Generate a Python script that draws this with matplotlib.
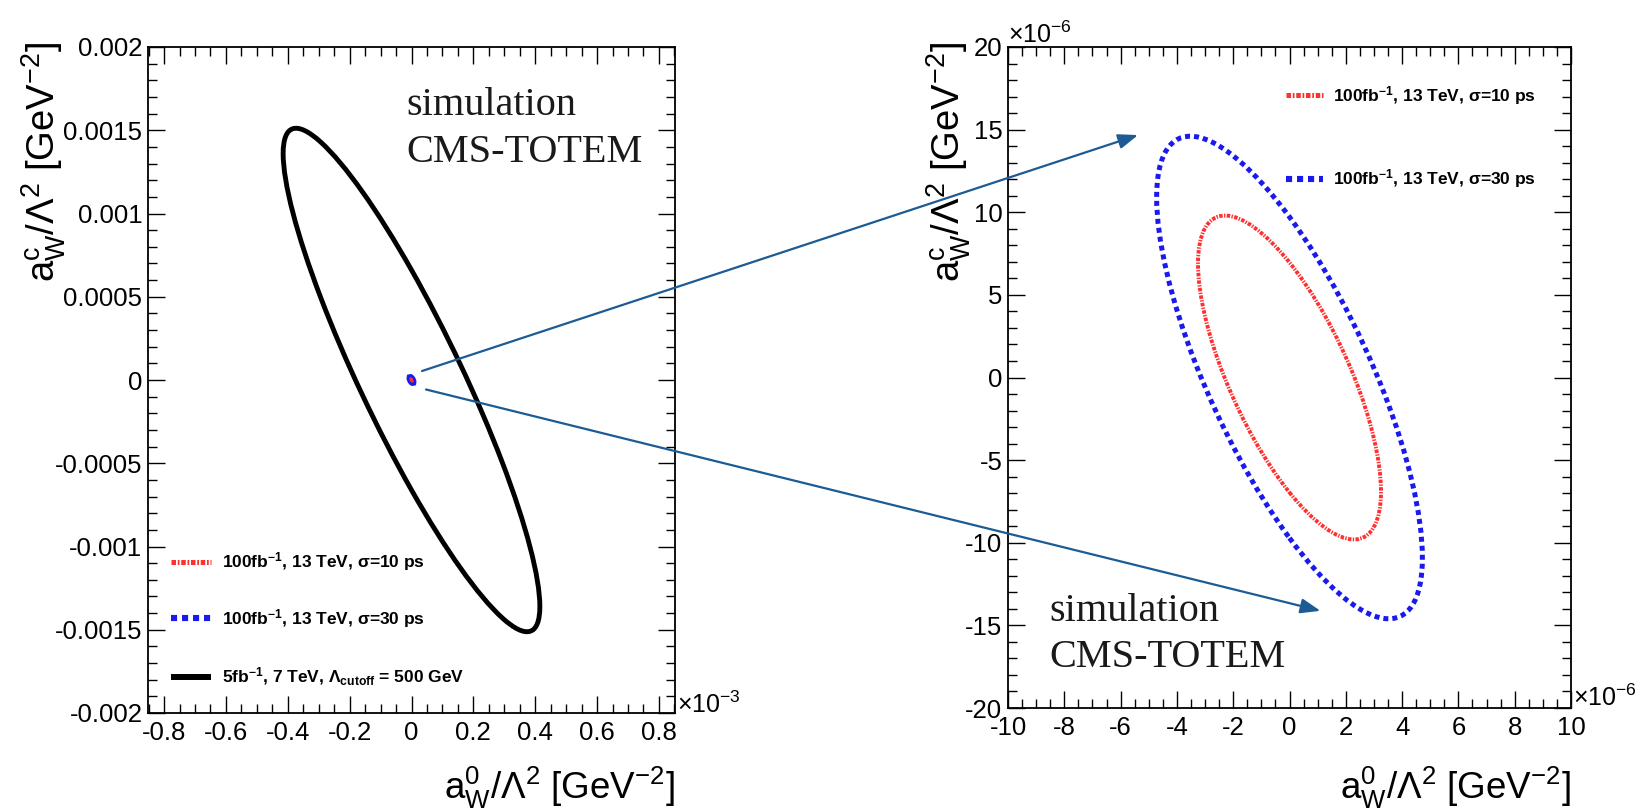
import matplotlib
matplotlib.use("Agg")
import matplotlib.pyplot as plt
import numpy as np
from matplotlib.patches import Circle, ConnectionPatch
from matplotlib.transforms import Affine2D
from matplotlib.ticker import MultipleLocator, FuncFormatter
from matplotlib.lines import Line2D

plt.rcParams['font.family'] = ['Liberation Sans', 'DejaVu Sans']
plt.rcParams['mathtext.fontset'] = 'custom'
plt.rcParams['mathtext.rm'] = 'Liberation Sans'
plt.rcParams['mathtext.it'] = 'Liberation Sans:italic'
plt.rcParams['mathtext.bf'] = 'Liberation Sans:bold'

# ---------------- data, units GeV^-2 ----------------
contour_labels = [r"100fb$^{\mathbf{-1}}$, 13 TeV, σ=10 ps",
                  r"100fb$^{\mathbf{-1}}$, 13 TeV, σ=30 ps",
                  r"5fb$^{\mathbf{-1}}$, 7 TeV, Λ$_{\mathbf{cutoff}}$ = 500 GeV"]
# half extent of each contour along a_W^0, along a_W^C, and a_W^C where a_W^0 is maximal
x_extent = [3.25e-6, 4.72e-6, 0.415e-3]
y_extent = [9.8e-6, 14.6e-6, 1.512e-3]
y_at_x_extent = [-6.9e-6, -10.9e-6, -1.36e-3]

# zoom arrows: start in left panel, end in right panel (GeV^-2)
arrow_start = [(0.034e-3, 0.054e-3), (0.047e-3, -0.057e-3)]
arrow_end = [(-5.38e-6, 14.67e-6), (1.10e-6, -14.12e-6)]

left_xticks = [-0.8, -0.6, -0.4, -0.2, 0, 0.2, 0.4, 0.6, 0.8]
left_yticks = [-0.002, -0.0015, -0.001, -0.0005, 0, 0.0005, 0.001, 0.0015, 0.002]
right_xticks = [-10, -8, -6, -4, -2, 0, 2, 4, 6, 8, 10]
right_yticks = [-20, -15, -10, -5, 0, 5, 10, 15, 20]

# ---------------- styles ----------------
styles = [dict(color='#ff3030', lw=2.8, ls=(0, (0.9, 0.35, 0.35, 0.35))),
          dict(color='#1a1aee', lw=3.6, ls=(0, (1.0, 0.8))),
          dict(color='black', lw=3.5, ls='-')]

fig = plt.figure(figsize=(16.35, 8.11), dpi=100)
ax1 = fig.add_axes([148/1635, 1-713/811, 527/1635, 666/811])
ax2 = fig.add_axes([1008/1635, 1-708/811, 563/1635, 661/811])


def draw_contour(ax, i, sx, sy, ls=None, lw=None):
    y2 = np.sqrt(y_extent[i]**2 - y_at_x_extent[i]**2)
    m = np.array([[x_extent[i]/sx, 0, 0],
                  [y_at_x_extent[i]/sy, y2/sy, 0],
                  [0, 0, 1]])
    st = styles[i]
    p = Circle((0, 0), 1, transform=Affine2D(m) + ax.transData, fill=False,
               edgecolor=st['color'], linewidth=lw or st['lw'],
               linestyle=ls or st['ls'], capstyle='butt')
    ax.add_patch(p)


# left panel: x in 1e-3, y raw (the 13 TeV contours collapse to a small blob)
draw_contour(ax1, 2, 1e-3, 1.0)
draw_contour(ax1, 1, 1e-3, 1.0, ls='-', lw=5.0)
draw_contour(ax1, 0, 1e-3, 1.0, ls='-', lw=1.5)
# right panel: both in 1e-6
for i in [1, 0]:
    draw_contour(ax2, i, 1e-6, 1e-6)

ax1.set_xlim(-0.852, 0.852)
ax1.set_ylim(-0.002, 0.002)
ax2.set_xlim(-10, 10)
ax2.set_ylim(-20, 20)

ax1.set_xticks(left_xticks)
ax1.set_yticks(left_yticks)
ax2.set_xticks(right_xticks)
ax2.set_yticks(right_yticks)
ax1.xaxis.set_minor_locator(MultipleLocator(0.05))
ax1.yaxis.set_minor_locator(MultipleLocator(0.0001))
ax2.xaxis.set_minor_locator(MultipleLocator(0.5))
ax2.yaxis.set_minor_locator(MultipleLocator(1))
fmt = FuncFormatter(lambda v, p: f"{v:g}")
for ax in (ax1, ax2):
    ax.xaxis.set_major_formatter(fmt)
    ax.yaxis.set_major_formatter(fmt)
    ax.tick_params(which='both', direction='in', top=True, right=True, width=1.0)
    ax.tick_params(which='major', length=12, labelsize=18.5)
    ax.tick_params(which='minor', length=6.5)
    ax.tick_params(axis='x', pad=6)
    ax.tick_params(axis='y', pad=4)
    for s in ax.spines.values():
        s.set_linewidth(1.3)

# axis labels
ylab_c = r"a$_{\mathrm{W}}^{\mathrm{c}}$/Λ$^{2}$ [GeV$^{-2}$]"
xlab_0 = r"a$_{\mathrm{W}}^{0}$/Λ$^{2}$ [GeV$^{-2}$]"
for ax, ylx, xly in ((ax1, -0.152, -0.078), (ax2, -0.062, -0.086)):
    ax.set_ylabel(ylab_c, fontsize=27.5, loc='top')
    ax.yaxis.set_label_coords(ylx, 1.008)
    ax.set_xlabel(xlab_0, fontsize=26.5, loc='right', va='top')
    ax.xaxis.set_label_coords(1.0, xly)

# multipliers
ax1.text(1.004, 0.012, r"×10$^{-3}$", transform=ax1.transAxes, fontsize=18, va='center', ha='left')
ax2.text(0.0, 1.006, r"×10$^{-6}$", transform=ax2.transAxes, fontsize=18, va='baseline', ha='left')
ax2.text(1.004, 0.015, r"×10$^{-6}$", transform=ax2.transAxes, fontsize=18, va='center', ha='left')

# simulation / CMS-TOTEM
for ax, x, y1, y2 in ((ax1, 0.491, 0.898, 0.828), (ax2, 0.073, 0.132, 0.0614)):
    ax.text(x, y1, "simulation", transform=ax.transAxes, fontsize=29,
            family='Liberation Serif', va='baseline', ha='left', color='#1a1a1a')
    ax.text(x, y2, "CMS-TOTEM", transform=ax.transAxes, fontsize=29,
            family='Liberation Serif', va='baseline', ha='left', color='#1a1a1a')


# legends
def legend_row(ax, i, x0, x1, xt, y):
    st = styles[i]
    ax.add_line(Line2D([x0, x1], [y, y], transform=ax.transAxes, color=st['color'],
                       lw=st['lw'] + 0.8, ls=st['ls'], solid_capstyle='butt',
                       dash_capstyle='butt', clip_on=False))
    ax.text(xt, y, contour_labels[i], transform=ax.transAxes, va='center', ha='left',
            fontsize=12.5, fontweight='bold')


for i, y in zip([0, 1, 2], [0.227, 0.142, 0.0545]):
    legend_row(ax1, i, 0.044, 0.120, 0.140, y)
for i, y in zip([0, 1], [0.927, 0.801]):
    legend_row(ax2, i, 0.494, 0.560, 0.577, y)

# zoom arrows
for (xa, ya), (xb, yb) in zip(arrow_start, arrow_end):
    cp = ConnectionPatch(xyA=(xa/1e-3, ya), coordsA=ax1.transData,
                         xyB=(xb/1e-6, yb/1e-6), coordsB=ax2.transData,
                         arrowstyle='-|>,head_length=0.8,head_width=0.3',
                         mutation_scale=15, color='#1d5b94', lw=1.6)
    fig.add_artist(cp)

fig.savefig("out.png", dpi=100)
